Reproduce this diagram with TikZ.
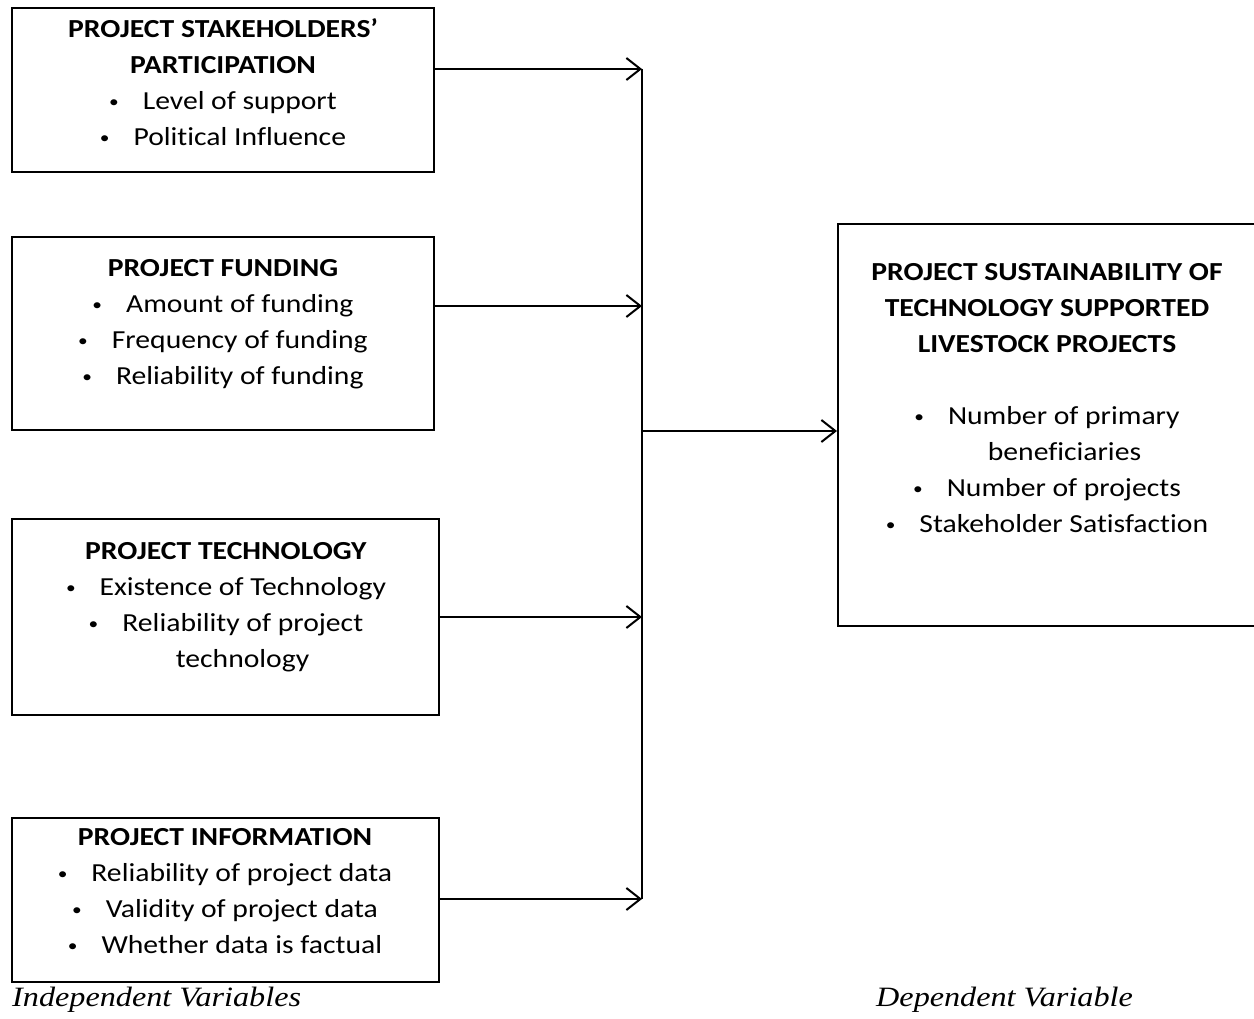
\documentclass[tikz,border=0pt]{standalone}
\usepackage{fontspec}
\setmainfont{Carlito}[FakeStretch=1.14,Ligatures={NoCommon}]
\newfontfamily\tnr{Liberation Serif}[FakeStretch=1.15]
\usetikzlibrary{arrows.meta}
\newcommand\bul{\raisebox{1.5pt}{\fontsize{17}{17}\selectfont •}\hspace{24pt}}
\begin{document}
\begin{tikzpicture}[x=1pt,y=-1pt,
 box/.style={draw,line width=2pt,inner sep=0pt,rectangle},
 txt/.style={align=center,font=\fontsize{26}{36}\selectfont,inner sep=0pt},
 conn/.style={line width=2pt,-{Straight Barb[length=14pt,width=22pt,line width=2pt]}},
 plain/.style={line width=2pt},
 lbl/.style={font=\tnr\itshape\fontsize{28}{30}\selectfont,inner sep=0pt,anchor=base west}]
\useasboundingbox (0,0) rectangle (1254,1019);
\clip (0,0) rectangle (1254,1019);
% boxes
\node[box,minimum width=422pt,minimum height=164pt] (b1) at (223,90) {};
\node[box,minimum width=422pt,minimum height=193pt] (b2) at (223,333.5) {};
\node[box,minimum width=427pt,minimum height=196pt] (b3) at (225.5,617) {};
\node[box,minimum width=427pt,minimum height=164pt] (b4) at (225.5,900) {};
\node[box,minimum width=418pt,minimum height=402pt] (b5) at (1047,425) {};
% texts
\node[txt] (t1) at (223,82) {\textbf{PROJECT STAKEHOLDERS’}\\\textbf{PARTICIPATION}\\\bul Level of support\\\bul Political Influence};
\node[txt] (t2) at (223,324) {\textbf{PROJECT FUNDING}\\\bul Amount of funding\\\bul Frequency of funding\\\bul Reliability of funding};
\node[txt] (t3) at (226,607) {\textbf{PROJECT TECHNOLOGY}\\\bul Existence of Technology\\\bul Reliability of project\\\hspace*{33pt}technology};
\node[txt] (t4) at (225,891) {\textbf{PROJECT INFORMATION}\\\bul Reliability of project data\\\bul Validity of project data\\\bul Whether data is factual};
\node[txt] (t5) at (1047,398) {\textbf{PROJECT SUSTAINABILITY OF}\\\textbf{TECHNOLOGY SUPPORTED}\\\textbf{LIVESTOCK PROJECTS}\\[36pt]\bul Number of primary\\\hspace*{35pt}beneficiaries\\\bul Number of projects\\\bul Stakeholder Satisfaction};
% junction coordinates
\coordinate (j1) at (642,69);
\coordinate (j2) at (642,306);
\coordinate (j3) at (642,617);
\coordinate (j4) at (642,899);
\coordinate (jm) at (642,431);
% connectors
\draw[conn] (b1.east |- j1) -- (j1);
\draw[conn] (b2.east |- j2) -- (j2);
\draw[conn] (b3.east |- j3) -- (j3);
\draw[conn] (b4.east |- j4) -- (j4);
\draw[plain] (j1) -- (j4);
\draw[conn] (jm) -- (b5.west |- jm);
% labels
\node[lbl] (l1) at (12,1006) {Independent Variables};
\node[lbl] (l2) at (876,1006) {Dependent Variable};
\end{tikzpicture}
\end{document}
